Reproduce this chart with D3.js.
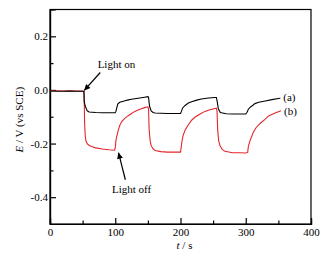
<!DOCTYPE html>
<html><head><meta charset="utf-8">
<script src="https://cdn.jsdelivr.net/npm/d3@7"></script>
<style>
html,body{margin:0;padding:0;background:#fff;}
svg{display:block;}
text{font-family:"Liberation Serif","Times New Roman",serif;}
</style></head>
<body><svg id="c" width="332" height="259"></svg>
<script>
// ---- data ----
const timeA = [0,10,20,30,40,50,52,52.5,54,57,60,70,80,90,100,101,102,104,107,111,115,120,125,130,135,140,145,150,151,152.5,155,158,161,170,180,190,200,201.5,203,207,212,217,225,232,240,247,253,255,256,258,261,270,280,290,300,302,304,307,311,314,320,330,340,350,353];
const seriesA = [-0.004,-0.005,-0.005,-0.004,-0.005,-0.005,-0.006,-0.045,-0.06,-0.078,-0.082,-0.084,-0.085,-0.085,-0.085,-0.08,-0.07,-0.052,-0.046,-0.043,-0.040,-0.037,-0.035,-0.033,-0.031,-0.029,-0.027,-0.025,-0.027,-0.06,-0.078,-0.084,-0.086,-0.087,-0.088,-0.088,-0.088,-0.08,-0.068,-0.058,-0.049,-0.044,-0.038,-0.034,-0.031,-0.029,-0.028,-0.028,-0.04,-0.07,-0.084,-0.089,-0.09,-0.09,-0.09,-0.083,-0.072,-0.064,-0.057,-0.051,-0.046,-0.041,-0.036,-0.032,-0.031];
const timeB = [0,10,20,30,40,50,52,52.5,53,54,55,57,60,65,70,80,90,99,100,101,102,104.7,107,110,115,120,125,130,135,140,145,150,151,152,153.5,155,158,161,170,180,190,200,201,202,204,207,212,217,222,230,237.5,245,255,256,257,258.5,260.5,264,268,280,290,300,303,304,306.5,311.6,316,322,329.5,335,345,354];
const seriesB = [-0.003,-0.003,-0.004,-0.003,-0.004,-0.004,-0.005,-0.05,-0.12,-0.17,-0.19,-0.2,-0.207,-0.212,-0.216,-0.22,-0.223,-0.225,-0.215,-0.19,-0.176,-0.15,-0.132,-0.118,-0.105,-0.096,-0.088,-0.080,-0.075,-0.070,-0.066,-0.063,-0.07,-0.15,-0.19,-0.207,-0.22,-0.226,-0.23,-0.232,-0.232,-0.232,-0.215,-0.195,-0.17,-0.15,-0.13,-0.113,-0.102,-0.09,-0.08,-0.074,-0.068,-0.08,-0.15,-0.19,-0.207,-0.222,-0.229,-0.234,-0.234,-0.235,-0.233,-0.21,-0.19,-0.158,-0.14,-0.125,-0.11,-0.097,-0.086,-0.078];
const xMajor = [0,100,200,300,400];
const xMinor = [50,150,250,350];
const yMajor = [0.2,0.0,-0.2,-0.4];
const yMinor = [0.1,-0.1,-0.3];
const yTickLabels = ["0.2","0.0","-0.2","-0.4"];
const seriesNames = ["(a)","(b)"];

// ---- layout ----
const L=50, R=311, T=9.5, B=224;
const svg = d3.select("#c");
const x = d3.scaleLinear().domain([0,400]).range([L,R]);
const y = d3.scaleLinear().domain([-0.5,0.3]).range([B,T]);
const fs = 11;

// frame
svg.append("rect").attr("x",L).attr("y",T).attr("width",R-L).attr("height",B-T)
  .attr("fill","none").attr("stroke","#000").attr("stroke-width",1.2);

// axes
const gx = svg.append("g").attr("transform",`translate(0,${B})`)
  .call(d3.axisBottom(x).tickValues(xMajor).tickSize(-6).tickPadding(4).tickFormat(d3.format("d")));
const gxm = svg.append("g").attr("transform",`translate(0,${B})`)
  .call(d3.axisBottom(x).tickValues(xMinor).tickSize(-3.5).tickFormat(""));
const gy = svg.append("g").attr("transform",`translate(${L},0)`)
  .call(d3.axisLeft(y).tickValues(yMajor).tickSize(-6).tickPadding(2).tickFormat((d,i)=>yTickLabels[i]));
const gym = svg.append("g").attr("transform",`translate(${L},0)`)
  .call(d3.axisLeft(y).tickValues(yMinor).tickSize(-3.5).tickFormat(""));
[gx,gxm,gy,gym].forEach(g=>{
  g.select(".domain").attr("stroke","#000").attr("stroke-width",1.2);
  g.selectAll(".tick line").attr("stroke","#000").attr("stroke-width",1.2);
  g.selectAll(".tick text").attr("font-size",fs).attr("fill","#000")
    .attr("font-family",'"Liberation Serif","Times New Roman",serif');
});

// lines
const line = d3.line().x(d=>x(d[0])).y(d=>y(d[1]));
svg.append("path").datum(timeB.map((t,i)=>[t,seriesB[i]]))
  .attr("d",line).attr("fill","none").attr("stroke","#e3262a").attr("stroke-width",1.1);
svg.append("path").datum(timeA.map((t,i)=>[t,seriesA[i]]))
  .attr("d",line).attr("fill","none").attr("stroke","#000").attr("stroke-width",1.1);

// series labels
const lastA = timeA.length-1, lastB = timeB.length-1;
svg.append("text").attr("x",x(timeA[lastA])+3).attr("y",y(seriesA[lastA])+3)
  .attr("font-size",fs).text(seriesNames[0]);
svg.append("text").attr("x",x(timeB[lastB])+3).attr("y",y(seriesB[lastB])+4)
  .attr("font-size",fs).text(seriesNames[1]);

// arrows
const defs = svg.append("defs");
defs.append("marker").attr("id","ah").attr("viewBox","0 0 10 10").attr("refX",10).attr("refY",5)
  .attr("markerWidth",8).attr("markerHeight",6).attr("markerUnits","userSpaceOnUse").attr("orient","auto")
  .append("path").attr("d","M0,0L10,5L0,10Z").attr("fill","#000");
function arrow(t0,v0,t1,v1){
  svg.append("line").attr("x1",x(t0)).attr("y1",y(v0)).attr("x2",x(t1)).attr("y2",y(v1))
    .attr("stroke","#000").attr("stroke-width",1.2).attr("marker-end","url(#ah)");
}
arrow(77, 0.065, 52.5, -0.002);
arrow(115.5, -0.335, 105, -0.234);
svg.append("text").attr("x",x(73)).attr("y",y(0.08)).attr("font-size",fs).text("Light on");
svg.append("text").attr("x",x(95)).attr("y",y(-0.385)).attr("font-size",fs).text("Light off");

// axis titles
const yt = svg.append("text").attr("transform",`translate(23,${(T+B)/2+3}) rotate(-90)`)
  .attr("text-anchor","middle").attr("font-size",fs);
yt.append("tspan").attr("font-style","italic").text("E");
yt.append("tspan").text(" / V (vs SCE)");
const xt = svg.append("text").attr("x",(L+R)/2+4).attr("y",249)
  .attr("text-anchor","middle").attr("font-size",fs);
xt.append("tspan").attr("font-style","italic").text("t");
xt.append("tspan").text(" / s");
</script></body></html>
